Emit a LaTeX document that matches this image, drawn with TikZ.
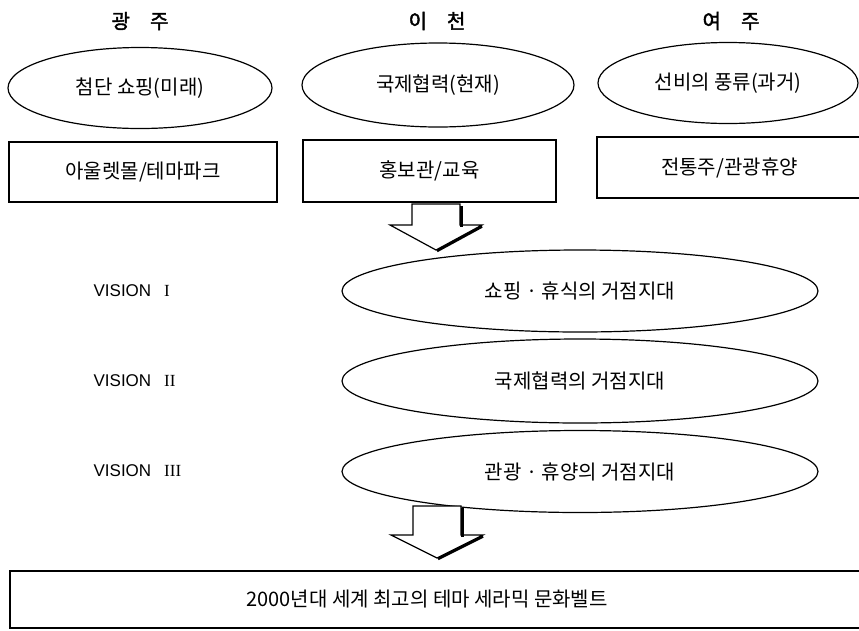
\documentclass[tikz,border=0pt]{standalone}
\usepackage{fontspec}
\setmainfont{Liberation Sans}
\newfontfamily\kr{Noto Sans CJK KR}
\newfontfamily\krb{Noto Sans CJK KR}[FakeBold=2]
\newfontfamily\numfont{Liberation Serif}
\usetikzlibrary{shapes.geometric}
\begin{document}
\begin{tikzpicture}[x=1pt,y=-1pt,
  line width=1.2pt,
  hdr/.style={font=\krb\fontsize{20}{22}\selectfont, inner sep=0pt},
  oval/.style={draw, ellipse, inner sep=0pt, font=\kr\fontsize{20}{22}\selectfont},
  boxnode/.style={draw, rectangle, inner sep=0pt, font=\kr\fontsize{20}{22}\selectfont},
  vis/.style={anchor=west, inner sep=0pt, font=\fontsize{17}{20}\selectfont},
  blockarrow/.style={draw, fill=white, line width=1.2pt, line join=miter},
  arrowshade/.style={line width=2.6pt, line cap=butt},
]
\useasboundingbox (0,0) rectangle (859,630);

% headers
\node[hdr] (h1) at (140,21) {광\quad 주};
\node[hdr] (h2) at (437,21) {이\quad 천};
\node[hdr] (h3) at (731,21) {여\quad 주};

% top ellipses
\node[oval, minimum width=264pt, minimum height=81pt] (e1) at (140,88) {첨단 쇼핑(미래)};
\node[oval, minimum width=272pt, minimum height=84pt] (e2) at (438,85) {국제협력(현재)};
\node[oval, minimum width=260pt, minimum height=81pt] (e3) at (728,83) {선비의 풍류(과거)};

% boxes
\node[boxnode, minimum width=268pt, minimum height=60pt] (b1) at (143,172) {아울렛몰/테마파크};
\node[boxnode, minimum width=253pt, minimum height=62pt] (b2) at (429.5,171) {홍보관/교육};
\node[boxnode, minimum width=265pt, minimum height=61pt] (b3) at (729.5,167.5) {전통주/관광휴양};

% first block arrow
\coordinate (a1) at (436,204);
\draw[blockarrow] (a1) ++(-24,0) -- ++(0,21) -- ++(-22,0) -- ++(46,25) -- ++(46,-25) -- ++(-22,0) -- ++(0,-21) -- cycle;
\draw[arrowshade] (a1) ++(25.5,2) -- ++(0,21);
\draw[arrowshade] (a1) ++(46,22.5) -- ++(-45,24.5);

% vision ellipses
\node[oval, minimum width=476pt, minimum height=82pt] (v1) at (580,291) {쇼핑 · 휴식의 거점지대};
\node[oval, minimum width=476pt, minimum height=84pt] (v2) at (580,381) {국제협력의 거점지대};
\node[oval, minimum width=476pt, minimum height=82pt] (v3) at (580,471.5) {관광 · 휴양의 거점지대};

% vision labels
\node[vis] (l1) at (93,291) {VISION\hspace{13pt}{\numfont I}};
\node[vis] (l2) at (93,381) {VISION\hspace{13pt}{\numfont II}};
\node[vis] (l3) at (93,471) {VISION\hspace{13pt}{\numfont III}};

% second block arrow
\coordinate (a2) at (437,506);
\draw[blockarrow] (a2) ++(-24,0) -- ++(0,29) -- ++(-22,0) -- ++(46,23) -- ++(46,-23) -- ++(-22,0) -- ++(0,-29) -- cycle;
\draw[arrowshade] (a2) ++(25.5,2) -- ++(0,29);
\draw[arrowshade] (a2) ++(46,30.5) -- ++(-45,22.5);

% bottom box
\node[boxnode, minimum width=852pt, minimum height=57pt] (bot) at (436,599.5) {2000년대 세계 최고의 테마 세라믹 문화벨트\hspace*{18pt}};
\end{tikzpicture}
\end{document}
